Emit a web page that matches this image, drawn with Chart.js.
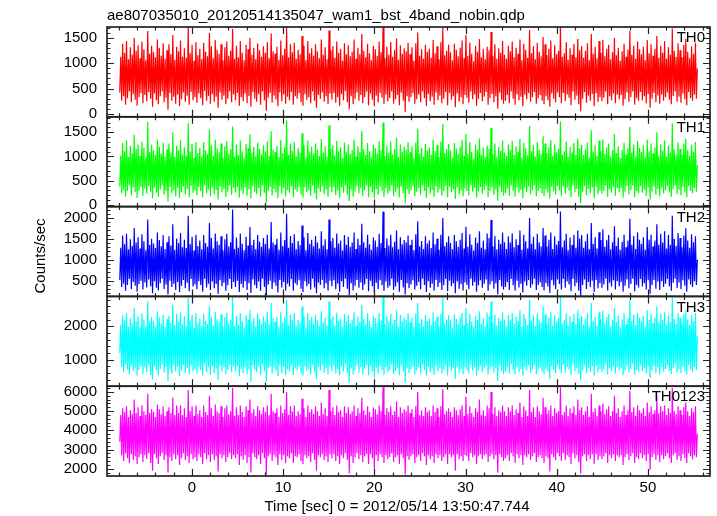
<!DOCTYPE html>
<html>
<head>
<meta charset="utf-8">
<title>WAM light curve</title>
<script src="https://cdn.jsdelivr.net/npm/chart.js@4.4.1/dist/chart.umd.min.js"></script>
<style>
  html, body { margin: 0; padding: 0; background: #fff; }
</style>
</head>
<body>
<canvas id="lcChart" width="717" height="516"></canvas>
<script>
// chart texts
const plotTitle = 'ae807035010_20120514135047_wam1_bst_4band_nobin.qdp';
const xTitle = 'Time [sec] 0 = 2012/05/14 13:50:47.744';
const yTitle = 'Counts/sec';
const bandNames = ['TH0', 'TH1', 'TH2', 'TH3', 'TH0123'];

// time grid of the light curve (sec from 0 = 2012/05/14 13:50:47.744)
const tStart = -7.9;
const tStep = 0.1057;

// count rates (counts/sec), 600 bins each
const th0 = [
  420,1130,260,1390,350,1210,180,1440,310,1080,440,1320,230,1170,390,1500,280,1250,160,1360,
  330,1100,410,1430,210,1280,370,1060,250,1640,430,1190,300,1350,140,1230,400,1120,270,1470,
  190,1310,350,1150,440,1400,230,1090,320,1260,80,1380,410,1180,260,1560,340,1070,200,1330,
  380,1240,150,1450,290,1130,420,1300,240,1110,360,1720,180,1200,430,1370,270,1050,330,1420,
  220,1160,400,1290,310,1080,170,1410,450,1230,260,1140,350,1600,200,1340,390,1100,240,1460,
  340,1270,120,1190,420,1380,280,1060,360,1320,190,1430,300,1150,440,1250,230,1680,380,1090,
  270,1350,410,1120,160,1440,330,1210,250,1060,400,1370,210,1280,350,1500,140,1170,430,1310,
  300,1080,240,1400,390,1260,180,1130,440,1340,270,1210,60,1420,320,1100,410,1590,220,1240,
  360,1190,290,1330,150,1070,420,1450,250,1160,380,1290,200,1710,340,1120,270,1380,430,1220,
  180,1410,350,1090,300,1270,410,1180,230,1540,160,1350,390,1060,280,1440,330,1200,210,1300,
  440,1150,260,1380,120,1240,370,1100,300,1470,420,1170,240,1320,350,1080,190,1650,400,1260,
  280,1340,410,1110,220,1430,330,1210,160,1290,390,1050,270,1400,450,1180,230,1360,90,1140,
  350,1230,190,1470,300,1090,420,1310,260,1180,370,1580,210,1250,330,1120,440,1390,170,1200,
  400,1060,280,1350,150,1280,360,1150,230,1430,410,1220,320,1740,190,1100,380,1330,250,1170,
  310,1420,440,1130,200,1260,290,1490,370,1070,170,1360,420,1190,260,1300,30,1240,350,1410,
  240,1180,330,1320,410,1050,200,1400,290,1610,380,1150,230,1280,440,1090,310,1370,160,1230,
  390,1290,250,1110,340,1460,180,1200,420,1340,270,1080,360,1420,210,1700,300,1160,430,1250,
  170,1370,410,1220,280,1060,350,1390,130,1270,400,1140,240,1310,330,1450,190,1100,370,1560,
  320,1150,220,1410,440,1190,290,1040,380,1350,160,1230,300,1480,410,1120,250,1290,340,1080,
  430,1330,180,1260,310,1620,390,1140,230,1380,350,1090,100,1300,420,1210,280,1440,200,1170,
  260,1090,370,1350,210,1240,440,1430,300,1120,180,1310,390,1190,270,1470,340,1060,150,1390,
  380,1270,290,1110,410,1660,240,1200,330,1340,430,1080,200,1410,310,1230,370,1140,260,1520,
  190,1380,350,1160,270,1290,140,1450,400,1100,300,1360,230,1180,420,1250,330,1730,210,1130,
  410,1200,250,1420,380,1070,320,1300,170,1170,440,1390,280,1120,360,1480,190,1260,50,1340,
  300,1110,430,1250,220,1400,360,1060,260,1580,390,1190,150,1330,410,1100,240,1440,330,1210,
  250,1460,320,1140,440,1290,190,1370,350,1080,270,1220,400,1500,210,1160,380,1310,290,1050,
  370,1240,160,1390,290,1130,420,1270,240,1640,330,1170,440,1350,180,1090,310,1430,260,1280,
  430,1180,270,1330,350,1060,210,1460,390,1200,120,1380,300,1150,410,1290,230,1540,360,1110,
  200,1350,380,1210,260,1440,330,1090,420,1320,280,1170,190,1690,350,1250,440,1130,240,1400,
  340,1260,220,1120,400,1370,290,1480,170,1230,430,1100,310,1340,260,1190,380,1410,300,900
];
const th1 = [
  380,1020,240,1280,310,1110,170,1330,290,990,400,1220,200,1070,360,1450,260,1160,150,1250,
  300,1010,370,1310,190,1180,340,980,230,1710,390,1090,270,1240,130,1130,360,1030,250,1350,
  170,1200,320,1060,400,1290,210,1000,290,1150,70,1270,370,1080,240,1500,310,990,180,1220,
  350,1130,150,1340,260,1040,380,1190,220,1020,330,1690,160,1100,390,1260,250,970,300,1300,
  200,1070,370,1180,280,1000,160,1300,400,1130,240,1050,320,1560,180,1230,360,1010,220,1350,
  310,1170,110,1090,380,1270,260,980,330,1210,170,1320,270,1060,400,1150,210,1620,350,1000,
  250,1240,370,1030,150,1330,300,1110,230,980,360,1260,190,1170,320,1460,130,1080,390,1200,
  270,1000,220,1290,350,1160,170,1040,400,1230,250,1110,50,1310,290,1010,370,1520,200,1140,
  330,1090,260,1220,140,990,380,1340,230,1070,350,1190,180,1750,310,1030,250,1270,390,1120,
  160,1300,320,1000,270,1170,370,1080,210,1480,150,1240,360,980,260,1330,300,1100,190,1200,
  400,1060,240,1270,110,1140,340,1010,270,1360,380,1080,220,1210,320,1000,170,1640,370,1160,
  260,1230,370,1020,200,1320,300,1110,150,1190,360,970,250,1290,400,1090,210,1250,80,1050,
  320,1130,170,1350,270,1000,380,1210,240,1090,340,1530,190,1150,300,1030,400,1280,160,1110,
  370,980,260,1240,140,1180,330,1060,210,1320,380,1130,290,1700,170,1010,350,1220,230,1080,
  280,1310,400,1040,180,1160,270,1380,340,990,160,1250,380,1100,240,1200,30,1140,320,1300,
  220,1090,300,1210,380,970,180,1290,270,1580,350,1060,210,1180,400,1000,290,1260,150,1130,
  360,1190,230,1030,310,1350,170,1110,380,1230,250,990,330,1310,190,1670,280,1070,390,1150,
  160,1260,370,1130,260,980,320,1280,120,1170,360,1050,220,1200,300,1340,180,1010,340,1470,
  290,1060,200,1300,400,1100,270,960,350,1240,150,1140,280,1370,370,1030,230,1190,310,1000,
  390,1220,170,1160,290,1590,360,1050,210,1270,320,1000,90,1200,380,1120,260,1330,190,1080,
  240,1010,340,1250,190,1140,400,1320,280,1030,170,1210,360,1100,250,1360,310,980,140,1280,
  350,1170,270,1020,380,1630,220,1110,300,1230,400,1000,180,1300,290,1140,340,1050,240,1420,
  180,1270,320,1070,250,1190,130,1340,370,1020,280,1250,210,1090,390,1160,300,1730,190,1040,
  380,1110,230,1310,350,990,290,1200,160,1080,400,1280,260,1030,330,1370,170,1170,40,1240,
  270,1030,390,1150,200,1290,330,980,240,1540,360,1100,140,1230,380,1010,220,1330,300,1120,
  230,1350,290,1050,400,1190,170,1270,320,1000,250,1130,370,1460,190,1070,350,1210,260,970,
  340,1140,150,1280,270,1040,390,1170,220,1610,300,1080,400,1250,160,1000,280,1320,240,1180,
  390,1090,250,1230,320,980,190,1350,360,1110,110,1270,270,1060,380,1190,210,1500,330,1020,
  180,1250,350,1120,240,1330,300,1000,390,1220,260,1080,170,1680,320,1150,400,1040,220,1290,
  310,1160,200,1030,370,1270,260,1360,160,1140,390,1010,290,1240,240,1100,350,1300,270,820
];
const th2 = [
  520,1290,350,1580,430,1370,260,1620,400,1250,540,1490,300,1330,470,1760,380,1410,240,1540,
  420,1270,500,1610,290,1440,460,1230,340,1960,530,1350,370,1500,200,1390,490,1280,330,1650,
  270,1470,440,1320,550,1590,300,1260,410,1420,170,1560,500,1340,350,1850,430,1240,280,1510,
  470,1400,230,1640,380,1300,520,1480,320,1280,450,2050,250,1370,540,1550,360,1220,410,1600,
  300,1330,490,1460,400,1250,240,1590,550,1400,340,1310,430,1880,280,1520,480,1270,320,1630,
  420,1440,190,1360,510,1560,370,1230,450,1490,260,1620,390,1320,540,1420,310,2200,470,1260,
  350,1530,500,1290,230,1630,420,1380,330,1230,490,1550,280,1340,440,1780,210,1350,530,1480,
  390,1250,320,1590,480,1430,260,1310,550,1520,350,1380,160,1600,410,1270,500,1900,300,1410,
  460,1360,380,1500,220,1240,520,1650,340,1330,470,1470,270,2100,430,1290,360,1570,540,1400,
  260,1610,440,1250,390,1450,510,1350,310,1820,230,1540,490,1230,370,1640,420,1380,290,1480,
  550,1320,340,1570,200,1410,460,1270,400,1680,520,1340,320,1490,440,1250,270,1960,500,1440,
  370,1520,510,1290,300,1630,430,1390,240,1460,490,1220,350,1590,550,1360,310,1550,150,1310,
  440,1410,270,1650,380,1260,520,1500,330,1350,460,1860,280,1420,410,1290,540,1600,250,1370,
  500,1240,370,1530,220,1460,450,1310,300,1620,510,1400,390,2150,260,1280,480,1510,330,1340,
  380,1600,550,1300,280,1430,360,1700,460,1250,240,1540,520,1370,340,1470,170,1420,440,1580,
  320,1350,410,1480,510,1230,290,1610,380,1920,470,1320,300,1450,550,1260,400,1560,230,1390,
  490,1460,330,1280,430,1650,260,1370,520,1500,350,1240,450,1600,280,2000,390,1330,540,1420,
  250,1560,500,1400,370,1250,440,1590,200,1440,480,1310,310,1480,420,1640,270,1270,460,1790,
  400,1310,300,1610,550,1360,380,1220,470,1530,240,1400,390,1680,510,1290,330,1460,430,1250,
  530,1630,260,1520,410,1950,490,1320,310,1570,440,1250,180,1480,520,1380,360,1650,290,1420,
  350,1260,470,1560,280,1410,540,1630,390,1300,260,1490,500,1350,340,1700,430,1240,220,1600,
  480,1440,380,1270,520,2000,330,1380,410,1550,550,1250,280,1620,400,1420,460,1320,350,1760,
  270,1580,440,1320,360,1480,210,1650,510,1260,390,1560,300,1360,530,1450,420,2150,290,1300,
  540,1460,330,1620,480,1230,410,1530,250,1350,550,1600,370,1290,450,1700,260,1510,140,1590,
  400,1290,530,1440,300,1620,470,1250,350,1880,500,1380,230,1540,520,1270,320,1660,440,1470,
  330,1730,410,1310,550,1480,270,1590,450,1250,360,1420,510,1800,290,1330,490,1530,370,1240,
  470,1430,240,1600,380,1300,530,1460,320,1980,420,1360,550,1570,250,1260,400,1650,340,1480,
  540,1380,360,1540,440,1240,290,1780,510,1480,190,1600,390,1320,520,1460,310,1850,480,1360,
  280,1620,490,1410,350,1680,430,1270,540,1590,370,1350,260,2050,450,1500,550,1330,320,1640,
  460,1520,300,1300,510,1580,380,1750,240,1460,530,1290,410,1610,350,1420,490,1560,400,1000
];
const th3 = [
  1200,2050,780,2330,620,2180,850,2400,700,1980,560,2250,820,2100,660,2550,740,2150,520,2300,
  690,1960,810,2390,570,2200,760,2020,630,2750,840,2130,540,2280,400,2170,800,2000,680,2450,
  530,2260,720,2080,850,2350,610,1970,780,2210,350,2320,700,2110,580,2650,830,2030,640,2380,
  790,2150,510,2420,670,2060,840,2300,600,1990,750,2850,550,2190,820,2340,650,1950,710,2400,
  580,2090,800,2240,690,2010,520,2380,850,2170,620,2070,760,2600,540,2290,810,2040,600,2430,
  730,2210,380,2130,830,2360,650,1980,770,2280,560,2410,690,2090,840,2200,610,2900,790,2020,
  640,2310,810,2050,500,2400,720,2160,590,1960,770,2330,550,2200,700,2500,340,2120,840,2260,
  680,2000,620,2370,790,2230,530,2080,850,2300,650,2150,330,2420,740,2060,800,2700,580,2250,
  760,2140,670,2290,510,1970,830,2420,590,2120,780,2270,540,2800,710,2040,640,2350,820,2190,
  540,2390,740,2020,680,2200,810,2110,570,2600,520,2310,790,1960,660,2400,720,2180,560,2280,
  850,2080,610,2350,400,2190,780,2000,670,2450,830,2120,600,2260,740,2030,550,2750,800,2210,
  660,2300,820,2050,580,2410,700,2170,520,2240,790,1990,640,2380,850,2150,590,2330,310,2090,
  730,2190,550,2420,680,2010,840,2290,610,2130,770,2650,560,2220,720,2060,830,2390,530,2170,
  800,1980,650,2330,450,2250,750,2100,580,2400,810,2180,690,2900,540,2060,780,2310,620,2140,
  670,2380,850,2080,570,2200,660,2500,760,1990,530,2340,820,2150,640,2260,300,2190,730,2400,
  600,2120,710,2260,800,1970,560,2390,680,2700,770,2090,590,2230,840,2000,690,2340,520,2160,
  780,2240,620,2040,730,2420,540,2150,820,2290,650,1990,750,2380,580,2850,690,2110,830,2210,
  530,2330,800,2180,660,1960,740,2360,420,2220,790,2070,600,2270,710,2400,560,2030,770,2550,
  690,2090,580,2380,850,2140,670,1980,760,2310,520,2190,680,2450,810,2070,620,2250,730,2000,
  820,2410,550,2300,700,2750,780,2110,610,2350,740,2030,350,2260,830,2160,650,2420,570,2200,
  640,2010,760,2340,580,2200,850,2400,690,2080,550,2290,790,2150,630,2480,720,1990,520,2370,
  770,2230,680,2040,820,2800,600,2160,710,2330,840,2000,560,2390,700,2210,760,2120,640,2600,
  560,2360,730,2090,650,2260,410,2420,800,2030,690,2330,590,2140,830,2250,720,2900,580,2080,
  840,2190,610,2400,770,2010,700,2300,540,2130,850,2380,660,2060,740,2500,570,2240,380,2320,
  690,2050,820,2230,590,2390,750,1980,630,2700,790,2150,520,2290,810,2020,610,2420,720,2210,
  620,2470,700,2100,850,2280,550,2370,740,2000,650,2200,790,2550,580,2130,770,2310,680,1970,
  750,2210,530,2390,670,2060,820,2260,610,2780,720,2160,850,2350,540,2040,690,2400,630,2250,
  830,2150,650,2320,740,2000,580,2480,790,2190,450,2380,680,2090,810,2270,600,2600,760,2110,
  560,2370,780,2200,640,2420,720,2050,840,2330,660,2140,570,2850,740,2230,850,2080,620,2400,
  710,2260,590,2060,800,2370,650,2480,550,2210,830,2030,700,2340,630,2150,770,2400,690,1700
];
const th0123 = [
  3400,4800,2700,5150,2400,4950,2800,5250,2550,4700,2300,5050,2750,4850,2450,5600,2650,4900,2250,5200,
  2600,4750,2750,5300,2350,5000,2700,4800,2500,5900,2800,4900,2300,5100,1900,4950,2750,4700,2550,5350,
  2250,5100,2650,4850,2800,5250,2450,4750,2700,5000,1800,5200,2600,4900,2400,5700,2750,4800,2500,5300,
  2700,4900,2200,5300,2550,4800,2800,5150,2450,4700,2650,6100,2300,5000,2750,5250,2500,4750,2600,5300,
  2400,4850,2750,5050,2600,4700,2250,5300,2800,4950,2500,4800,2700,5800,2350,5150,2750,4750,2450,5350,
  2650,5000,1850,4900,2750,5250,2550,4700,2700,5150,2350,5300,2600,4850,2800,5000,2500,6200,2700,4750,
  2550,5200,2750,4800,2200,5300,2650,4950,2450,4700,2700,5250,2300,5050,2600,5600,1800,4900,2800,5100,
  2600,4750,2500,5250,2700,5050,2250,4850,2800,5200,2550,4950,1700,5300,2650,4800,2750,5900,2400,5000,
  2700,4900,2600,5150,2200,4700,2750,5300,2450,4900,2700,5100,2300,6000,2650,4800,2550,5250,2800,5000,
  2300,5300,2650,4750,2600,5000,2750,4850,2400,5650,2250,5150,2700,4700,2550,5300,2650,4950,2350,5100,
  2800,4850,2450,5250,1900,5000,2700,4750,2600,5450,2750,4850,2450,5150,2650,4750,2350,6100,2750,5000,
  2550,5200,2750,4800,2400,5300,2650,4950,2250,5050,2700,4700,2550,5250,2800,4900,2450,5200,1750,4850,
  2650,5000,2300,5300,2600,4750,2800,5150,2500,4900,2700,5700,2350,5050,2650,4800,2750,5250,2250,4950,
  2750,4700,2550,5200,2000,5100,2700,4850,2400,5300,2750,5000,2600,6250,2300,4800,2700,5150,2500,4950,
  2600,5250,2800,4800,2350,5000,2600,5500,2700,4700,2250,5200,2750,4900,2550,5100,1700,5000,2650,5300,
  2450,4900,2650,5100,2750,4700,2300,5250,2600,6000,2700,4800,2400,5050,2800,4750,2650,5200,2200,4950,
  2700,5050,2500,4750,2650,5300,2300,4950,2750,5150,2550,4700,2700,5250,2400,6150,2600,4850,2750,5000,
  2250,5150,2750,4950,2600,4700,2700,5200,1900,5050,2750,4800,2500,5100,2650,5300,2400,4750,2700,5750,
  2650,4850,2400,5250,2800,4900,2600,4700,2700,5150,2250,4950,2650,5600,2750,4800,2500,5050,2700,4750,
  2750,5300,2350,5150,2650,6000,2750,4850,2500,5200,2700,4750,1800,5050,2750,4950,2600,5300,2400,5000,
  2550,4750,2700,5200,2400,5000,2800,5300,2650,4800,2300,5100,2750,4900,2550,5450,2700,4700,2200,5250,
  2700,5050,2600,4750,2750,6100,2450,4950,2650,5200,2800,4700,2350,5250,2600,5000,2700,4850,2550,5700,
  2300,5200,2650,4850,2550,5050,1850,5300,2750,4750,2600,5150,2450,4900,2800,5000,2650,6250,2400,4800,
  2800,4950,2450,5300,2700,4750,2600,5150,2250,4900,2800,5250,2550,4800,2700,5600,2350,5050,1750,5200,
  2650,4800,2750,5000,2400,5250,2700,4700,2500,5900,2750,4950,2250,5150,2750,4750,2450,5300,2650,5000,
  2500,5400,2650,4850,2800,5100,2300,5250,2700,4750,2550,5000,2750,5800,2400,4900,2700,5150,2600,4700,
  2700,5000,2200,5300,2600,4800,2750,5050,2450,6050,2650,4950,2800,5200,2300,4750,2600,5300,2500,5050,
  2800,4900,2550,5150,2700,4750,2400,5450,2750,4950,1950,5250,2600,4850,2750,5050,2450,5800,2700,4900,
  2350,5250,2700,5000,2500,5300,2650,4800,2800,5150,2550,4900,2300,6200,2700,5000,2800,4850,2450,5250,
  2650,5050,2400,4800,2750,5200,2550,5450,2300,5000,2800,4750,2650,5150,2500,4950,2700,5250,2600,3800
];

// axis ranges and tick labels
const xMin = -9.3, xMax = 56.8;
const xTicks = [0, 10, 20, 30, 40, 50];
const xMinorStep = 2;
const yMin = [-60, -35, 126, 200, 1620];
const yMax = [1720, 1820, 2270, 2900, 6300];
const yTicks = [
  [0, 500, 1000, 1500],
  [0, 500, 1000, 1500],
  [500, 1000, 1500, 2000],
  [1000, 2000],
  [2000, 3000, 4000, 5000, 6000]
];
const yMinor = [100, 100, 100, 200, 200];

const series = [th0, th1, th2, th3, th0123];
const lineColors = ['#ff0000', '#00ff00', '#0000ff', '#00ffff', '#ff00ff'];
const fontFamily = '"Liberation Sans", Arial, Helvetica, sans-serif';
const tickFont = { family: fontFamily, size: 15 };

const datasets = series.map((vals, i) => ({
  label: bandNames[i],
  data: vals.map((v, k) => ({ x: tStart + k * tStep, y: v })),
  yAxisID: 'y' + i,
  borderColor: lineColors[i],
  borderWidth: 1.2,
  pointRadius: 0,
  tension: 0,
  fill: false
}));

const scales = {
  x: {
    type: 'linear',
    position: 'bottom',
    min: xMin,
    max: xMax,
    grid: { display: false, drawTicks: false },
    border: { display: false },
    afterBuildTicks: s => { s.ticks = xTicks.map(v => ({ value: v })); },
    ticks: {
      padding: 3,
      color: '#000',
      font: tickFont,
      maxRotation: 0,
      autoSkip: false,
      callback: v => String(v)
    },
    afterFit: s => { s.height = 40; }
  }
};
bandNames.forEach((name, i) => {
  scales['y' + i] = {
    type: 'linear',
    position: 'left',
    stack: 'panels',
    stackWeight: 1,
    weight: bandNames.length - i,
    min: yMin[i],
    max: yMax[i],
    grid: { display: false, drawTicks: false },
    border: { display: false },
    afterBuildTicks: s => { s.ticks = yTicks[i].map(v => ({ value: v })); },
    ticks: {
      autoSkip: false,
      padding: 10,
      color: '#000',
      font: tickFont,
      callback: v => String(v)
    },
    afterFit: s => { s.width = 107; }
  };
});

// qdp-style frames, inward ticks and labels
const qdpFrame = {
  id: 'qdpFrame',
  beforeDatasetDraw(chart, args) {
    const ys = args.meta.yScale;
    const ca = chart.chartArea;
    const ctx = chart.ctx;
    ctx.save();
    ctx.beginPath();
    ctx.rect(ca.left, ys.top, ca.right - ca.left, ys.bottom - ys.top);
    ctx.clip();
  },
  afterDatasetDraw(chart) {
    chart.ctx.restore();
  },
  afterDraw(chart) {
    const ctx = chart.ctx;
    const ca = chart.chartArea;
    const xs = chart.scales.x;
    ctx.save();

    bandNames.forEach((name, i) => {
      const ys = chart.scales['y' + i];
      const top = ys.top, bottom = ys.bottom;

      ctx.strokeStyle = '#222';
      ctx.lineWidth = 1.2;
      ctx.beginPath();
      // x ticks on top and bottom of the panel
      for (let t = Math.ceil(xMin / xMinorStep) * xMinorStep; t <= xMax; t += xMinorStep) {
        const px = Math.round(xs.getPixelForValue(t)) + 0.5;
        const len = xTicks.includes(t) || t % 10 === 0 ? 7 : 3.5;
        ctx.moveTo(px, top); ctx.lineTo(px, top + len);
        ctx.moveTo(px, bottom); ctx.lineTo(px, bottom - len);
      }
      // y ticks on left and right
      const first = Math.ceil(yMin[i] / yMinor[i]) * yMinor[i];
      const majorStep = yTicks[i][1] - yTicks[i][0];
      for (let v = first; v <= yMax[i]; v += yMinor[i]) {
        const py = Math.round(ys.getPixelForValue(v)) + 0.5;
        const len = (v % majorStep === 0) ? 7 : 3.5;
        ctx.moveTo(ca.left, py); ctx.lineTo(ca.left + len, py);
        ctx.moveTo(ca.right, py); ctx.lineTo(ca.right - len, py);
      }
      ctx.stroke();

      ctx.lineWidth = 1.7;
      ctx.strokeStyle = '#222';
      ctx.strokeRect(ca.left, top, ca.right - ca.left, bottom - top);

      ctx.fillStyle = '#000';
      ctx.font = '15px ' + fontFamily;
      ctx.textAlign = 'right';
      ctx.textBaseline = 'middle';
      ctx.fillText(name, 705, top + 11);
    });

    ctx.fillStyle = '#000';
    ctx.font = '15px ' + fontFamily;
    ctx.textBaseline = 'alphabetic';
    ctx.textAlign = 'left';
    ctx.fillText(plotTitle, 107, 20);

    ctx.textAlign = 'center';
    ctx.fillText(xTitle, 397, 511);

    ctx.translate(41, 256);
    ctx.rotate(-Math.PI / 2);
    ctx.textBaseline = 'middle';
    ctx.fillText(yTitle, 0, 0);
    ctx.restore();
  }
};

const ctx = document.getElementById('lcChart').getContext('2d');
const lcChart = new Chart(ctx, {
  type: 'line',
  data: { datasets: datasets },
  options: {
    responsive: false,
    animation: false,
    layout: { padding: { top: 27, right: 7, bottom: 0, left: 0 } },
    scales: scales,
    plugins: {
      legend: { display: false },
      tooltip: { enabled: false },
      title: { display: false }
    }
  },
  plugins: [qdpFrame]
});
</script>
</body>
</html>
